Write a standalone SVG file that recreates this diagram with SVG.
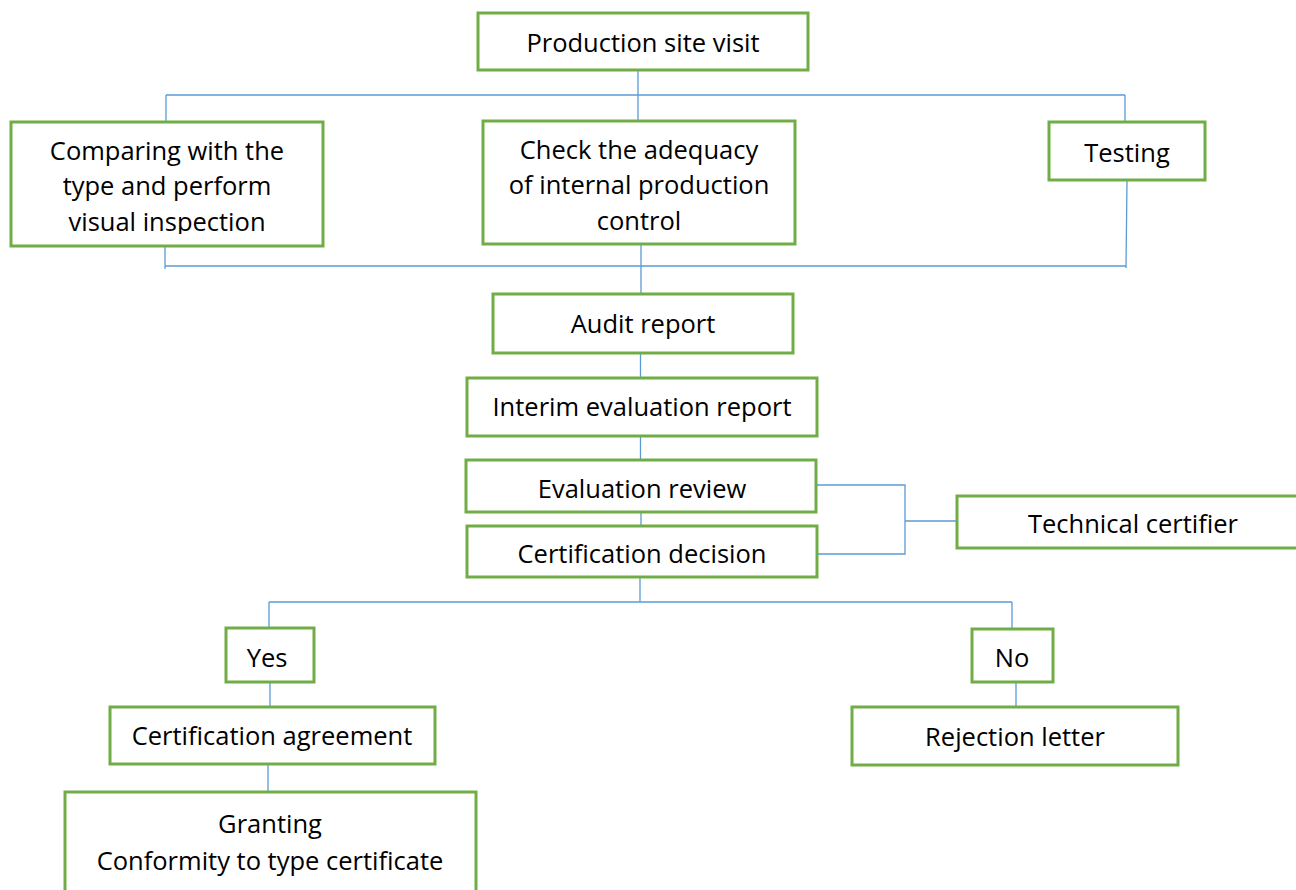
<svg xmlns="http://www.w3.org/2000/svg" width="1296" height="890" viewBox="0 0 1296 890">
<style>
.box{fill:#fff;stroke:#70AD47;stroke-width:3}
.t{font-family:"Open Sans","Liberation Sans",sans-serif;font-size:25.5px;fill:#000;text-anchor:middle}
.c{fill:none;stroke:#5B9BD5;stroke-width:1.3}
</style>
<defs>
<clipPath id="clipCmp"><rect x="0" y="100" width="340" height="134"/></clipPath>
</defs>
<rect width="1296" height="890" fill="#fff"/>
<g id="connectors">
<path class="c" d="M638,70V121 M166,95H1125 M166,95V122 M1125,95V121"/>
<path class="c" d="M165,246V269 M165,266H1126 M1127,180L1126,268 M641,244V294"/>
<path class="c" d="M640.5,353V378 M640.5,436V460 M641,512V526 M640,577V602"/>
<path class="c" d="M816,485H905V554H816 M905,521H957"/>
<path class="c" d="M269,602H1012 M269,602V628 M1012,602V629"/>
<path class="c" d="M270,682V707 M268,764V792 M1016,682V707"/>
</g>
<g id="n-production"><rect class="box" x="478" y="13" width="330" height="57"/><text class="t" x="643" y="52">Production site visit</text></g>
<g id="n-comparing"><rect class="box" x="11" y="122" width="312" height="124"/>
<g clip-path="url(#clipCmp)"><text class="t" x="167" y="160">Comparing with the</text><text class="t" x="167" y="195">type and perform</text><text class="t" x="167" y="231">visual inspection</text></g></g>
<g id="n-check"><rect class="box" x="483" y="121" width="312" height="123"/><text class="t" x="639" y="159">Check the adequacy</text><text class="t" x="639" y="194">of internal production</text><text class="t" x="639" y="230">control</text></g>
<g id="n-testing"><rect class="box" x="1049" y="122" width="156" height="58"/><text class="t" x="1127" y="162">Testing</text></g>
<g id="n-audit"><rect class="box" x="493" y="294" width="300" height="59"/><text class="t" x="643" y="333">Audit report</text></g>
<g id="n-interim"><rect class="box" x="467" y="378" width="350" height="58"/><text class="t" x="642" y="416">Interim evaluation report</text></g>
<g id="n-review"><rect class="box" x="466" y="460" width="350" height="52"/><text class="t" x="642" y="498">Evaluation review</text></g>
<g id="n-decision"><rect class="box" x="467" y="526" width="350" height="51"/><text class="t" x="642" y="563">Certification decision</text></g>
<g id="n-technical"><rect class="box" x="957" y="496" width="345" height="52"/><text class="t" x="1133" y="533">Technical certifier</text></g>
<g id="n-yes"><rect class="box" x="226" y="628" width="88" height="54"/><text class="t" x="267" y="667">Yes</text></g>
<g id="n-no"><rect class="box" x="972" y="629" width="81" height="53"/><text class="t" x="1012" y="667">No</text></g>
<g id="n-agreement"><rect class="box" x="110" y="707" width="325" height="57"/><text class="t" x="272" y="745">Certification agreement</text></g>
<g id="n-rejection"><rect class="box" x="852" y="707" width="326" height="58"/><text class="t" x="1015" y="746">Rejection letter</text></g>
<g id="n-granting"><rect class="box" x="65" y="792" width="411" height="110"/><text class="t" x="270" y="833">Granting</text><text class="t" x="270" y="870">Conformity to type certificate</text></g>
</svg>
